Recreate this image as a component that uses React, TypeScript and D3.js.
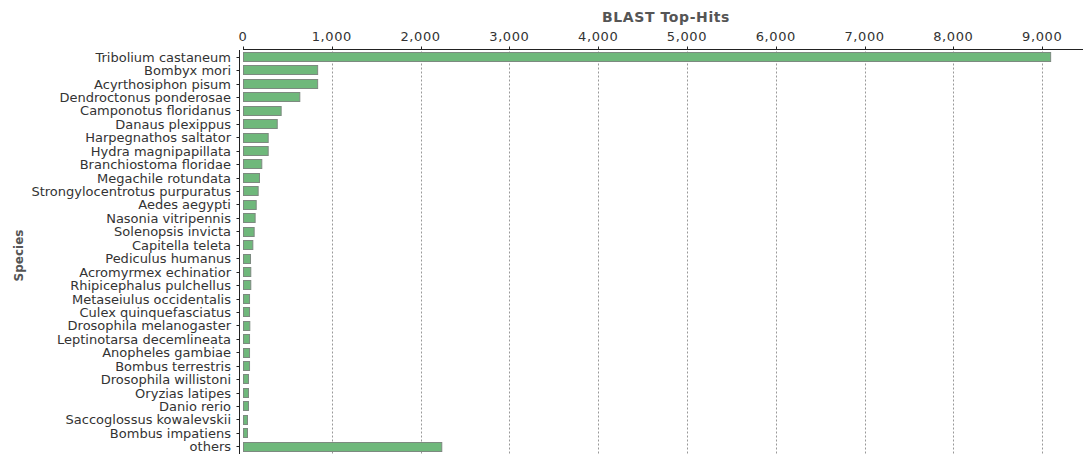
import React from "react";
import * as d3 from "d3";

const species = [
  "Tribolium castaneum",
  "Bombyx mori",
  "Acyrthosiphon pisum",
  "Dendroctonus ponderosae",
  "Camponotus floridanus",
  "Danaus plexippus",
  "Harpegnathos saltator",
  "Hydra magnipapillata",
  "Branchiostoma floridae",
  "Megachile rotundata",
  "Strongylocentrotus purpuratus",
  "Aedes aegypti",
  "Nasonia vitripennis",
  "Solenopsis invicta",
  "Capitella teleta",
  "Pediculus humanus",
  "Acromyrmex echinatior",
  "Rhipicephalus pulchellus",
  "Metaseiulus occidentalis",
  "Culex quinquefasciatus",
  "Drosophila melanogaster",
  "Leptinotarsa decemlineata",
  "Anopheles gambiae",
  "Bombus terrestris",
  "Drosophila willistoni",
  "Oryzias latipes",
  "Danio rerio",
  "Saccoglossus kowalevskii",
  "Bombus impatiens",
  "others",
];

const hits = [
  9090, 835, 835, 634, 424, 380, 278, 278, 206, 180, 165, 143, 131, 120, 105,
  79, 82, 82, 68, 68, 71, 68, 68, 68, 56, 56, 56, 45, 45, 2233,
];

const xTicks = [0, 1000, 2000, 3000, 4000, 5000, 6000, 7000, 8000, 9000];

const W = 1083;
const H = 454;
const FONT = "'DejaVu Sans', sans-serif";
const TEXT = "#333";

export default function App() {
  const x = d3.scaleLinear().domain([0, 9460]).range([243, W]);
  const y = d3
    .scaleBand<string>()
    .domain(species)
    .range([50, 453])
    .paddingInner(0.3)
    .paddingOuter(0.15);
  const fmt = d3.format(",");
  const yAxisX = 239.5;
  const xAxisY = 49.5;

  return (
    <svg
      width={W}
      height={H}
      style={{ position: "absolute", left: 0, top: 0, background: "#fff" }}
      fontFamily={FONT}
    >
      {/* vertical dashed gridlines */}
      {xTicks.slice(1).map((t) => (
        <line
          key={"g" + t}
          x1={Math.round(x(t)) + 0.5}
          x2={Math.round(x(t)) + 0.5}
          y1={xAxisY + 2}
          y2={H}
          stroke="#999"
          strokeWidth={1}
          strokeDasharray="2,2"
        />
      ))}

      {/* bars */}
      {species.map((s, i) => (
        <rect
          key={s}
          x={x(0) + 0.5}
          y={Math.round(y(s)!) + 0.5}
          width={x(hits[i]) - x(0)}
          height={Math.round(y.bandwidth())}
          fill="#6fb87b"
          stroke="#7d8a80"
          strokeWidth={1}
        />
      ))}

      {/* top axis */}
      <line x1={x(0)} x2={W} y1={xAxisY} y2={xAxisY} stroke="#222" strokeWidth={1} />
      {xTicks.map((t) => (
        <g key={"t" + t}>
          <line
            x1={Math.round(x(t)) + 0.5}
            x2={Math.round(x(t)) + 0.5}
            y1={xAxisY - 3}
            y2={xAxisY}
            stroke="#222"
          />
          <text
            x={x(t)}
            y={41}
            textAnchor="middle"
            fontSize={13}
            letterSpacing={0.6}
            fill={TEXT}
          >
            {fmt(t)}
          </text>
        </g>
      ))}
      <text
        x={666}
        y={22}
        textAnchor="middle"
        fontSize={14}
        fontWeight="bold"
        letterSpacing={0.6}
        fill="#555"
      >
        BLAST Top-Hits
      </text>

      {/* left axis */}
      <line x1={yAxisX} x2={yAxisX} y1={50} y2={H} stroke="#222" strokeWidth={1} />
      {species.map((s) => {
        const cy = Math.round(y(s)! + y.bandwidth() / 2) + 0.5;
        return (
          <g key={"l" + s}>
            <line x1={yAxisX - 3} x2={yAxisX} y1={cy} y2={cy} stroke="#222" />
            <text
              x={231}
              y={cy}
              dy="0.35em"
              textAnchor="end"
              fontSize={13}
              fill={TEXT}
            >
              {s}
            </text>
          </g>
        );
      })}
      <text
        transform={`translate(23,255.5) rotate(-90)`}
        textAnchor="middle"
        fontSize={12}
        fontWeight="bold"
        fill="#555"
      >
        Species
      </text>
    </svg>
  );
}
